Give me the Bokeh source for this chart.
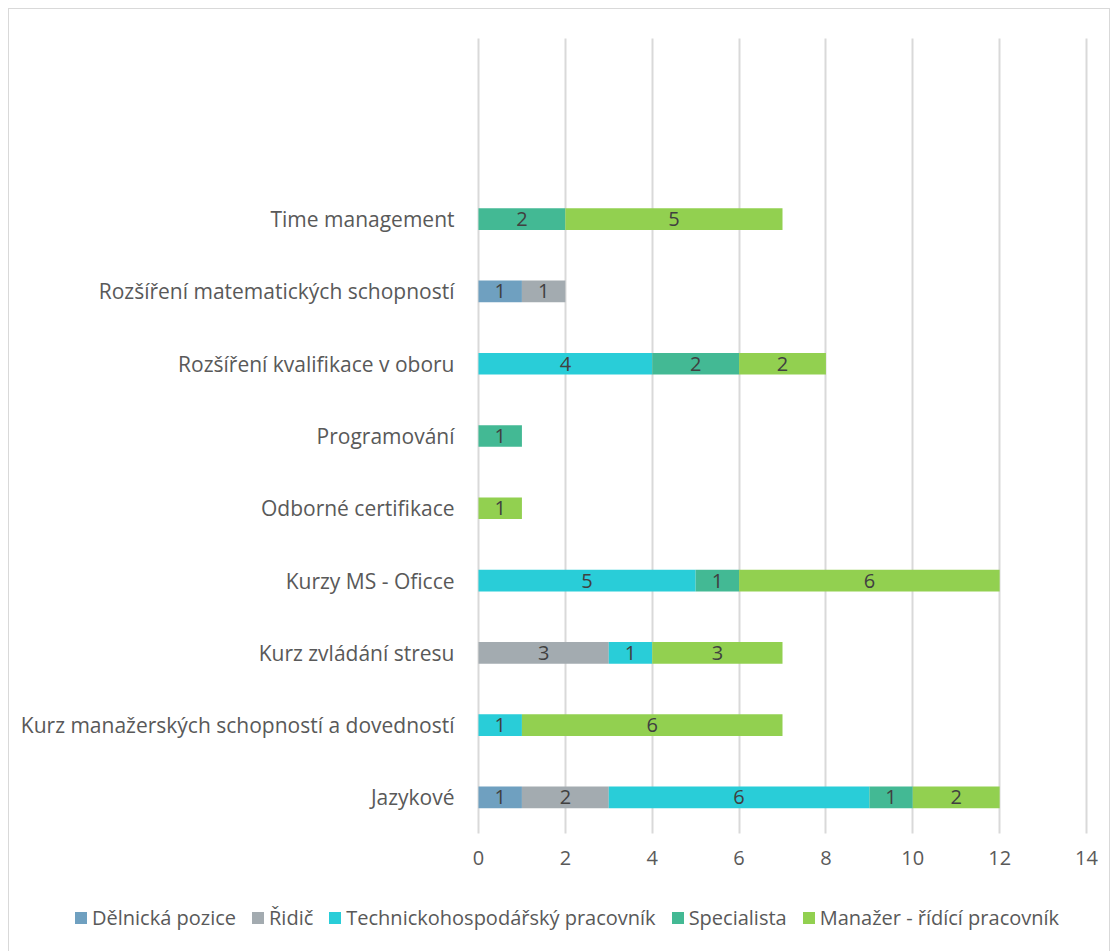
from bokeh.plotting import figure
from bokeh.models import Range1d, FixedTicker, ColumnDataSource, Legend, LegendItem
from bokeh.core.properties import value
from bokeh.embed import file_html
from bokeh.resources import INLINE

categories = ["Jazykové", "Kurz manažerských schopností a dovedností", "Kurz zvládání stresu",
              "Kurzy MS - Oficce", "Odborné certifikace", "Programování",
              "Rozšíření kvalifikace v oboru", "Rozšíření matematických schopností", "Time management"]
series = ["Dělnická pozice", "Řidič", "Technickohospodářský pracovník", "Specialista", "Manažer - řídící pracovník"]
delnicka = [1, 0, 0, 0, 0, 0, 0, 1, 0]
ridic = [2, 0, 3, 0, 0, 0, 0, 1, 0]
technicko = [6, 1, 1, 5, 0, 0, 4, 0, 0]
specialista = [1, 0, 0, 1, 0, 1, 2, 0, 2]
manazer = [2, 6, 3, 6, 1, 0, 2, 0, 5]
colors = ["#6FA0C0", "#A3ABB0", "#29CDD8", "#43B994", "#92D050"]
x_ticks = [0, 2, 4, 6, 8, 10, 12, 14]

FONT = "Open Sans"
TXT = "#595959"

# layout (canvas pixels)
W, H = 1102, 946
PX_LEFT, PX_RIGHT = 469, 1077      # x = 0 and x = 14
PX_TOP, PX_BOTTOM = 29, 824        # top of value area and y = 0
X_MAX = 14
N_SLOTS = 11                        # category slots incl. two empty ones on top

ux = (PX_RIGHT - PX_LEFT) / X_MAX
uy = (PX_BOTTOM - PX_TOP) / N_SLOTS
x_range = Range1d(-PX_LEFT / ux, X_MAX + (W - PX_RIGHT) / ux)
y_range = Range1d(-(H - PX_BOTTOM) / uy, N_SLOTS + PX_TOP / uy)

values = [delnicka, ridic, technicko, specialista, manazer]
ypos = [i + 0.5 for i in range(len(categories))]

p = figure(width=W, height=H, output_backend="svg", toolbar_location=None,
           x_range=x_range, y_range=y_range, min_border=0)
p.styles = {"margin-left": "8px", "margin-top": "8px", "border": "1px solid #D9D9D9"}
p.outline_line_color = None
p.grid.visible = False

lefts = [0] * len(categories)
renderers = []
for s, vals, c in zip(series, values, colors):
    rights = [l + v for l, v in zip(lefts, vals)]
    src = ColumnDataSource(dict(y=ypos, left=lefts, right=rights, v=vals))
    r = p.hbar(y="y", left="left", right="right", height=0.3, source=src, fill_color=c, line_color=None)
    renderers.append((s, r))
    lx, ly, lt = [], [], []
    for yy, l, rr, v in zip(ypos, lefts, rights, vals):
        if v > 0:
            lx.append((l + rr) / 2)
            ly.append(yy)
            lt.append(str(v))
    p.text(x=lx, y=ly, text=lt, text_align="center", text_baseline="middle",
           text_font=value(FONT), text_font_size="20px", text_color="#404040")
    lefts = rights

# x axis drawn at y = 0; its long inward ticks form the vertical grid lines
xa = p.xaxis[0]
xa.level = "underlay"
xa.fixed_location = 0
xa.bounds = (0, X_MAX)
xa.ticker = FixedTicker(ticks=x_ticks)
xa.axis_line_color = None
xa.major_tick_in = PX_BOTTOM - PX_TOP
xa.major_tick_out = 0
xa.major_tick_line_color = "#D9D9D9"
xa.major_tick_line_width = 2
xa.minor_tick_line_color = None
xa.major_label_standoff = 17
xa.major_label_text_font = FONT
xa.major_label_text_font_size = "20px"
xa.major_label_text_color = TXT

ya = p.yaxis[0]
ya.fixed_location = 0
ya.bounds = (0, N_SLOTS)
ya.ticker = FixedTicker(ticks=ypos)
ya.major_label_overrides = {y: c for y, c in zip(ypos, categories)}
ya.axis_line_color = None
ya.major_tick_line_color = None
ya.minor_tick_line_color = None
ya.major_label_standoff = 18
ya.major_label_text_font = FONT
ya.major_label_text_font_size = "21px"
ya.major_label_text_color = TXT

legend = Legend(items=[LegendItem(label=s, renderers=[r]) for s, r in renderers],
                orientation="horizontal", location=(64, 24),
                label_text_font=FONT, label_text_font_size="20px", label_text_color=TXT,
                glyph_width=15, glyph_height=15, spacing=14, label_standoff=4,
                padding=0, margin=0, border_line_color=None, background_fill_alpha=0)
p.add_layout(legend, "center")

open("out.html", "w").write(file_html(p, INLINE))
